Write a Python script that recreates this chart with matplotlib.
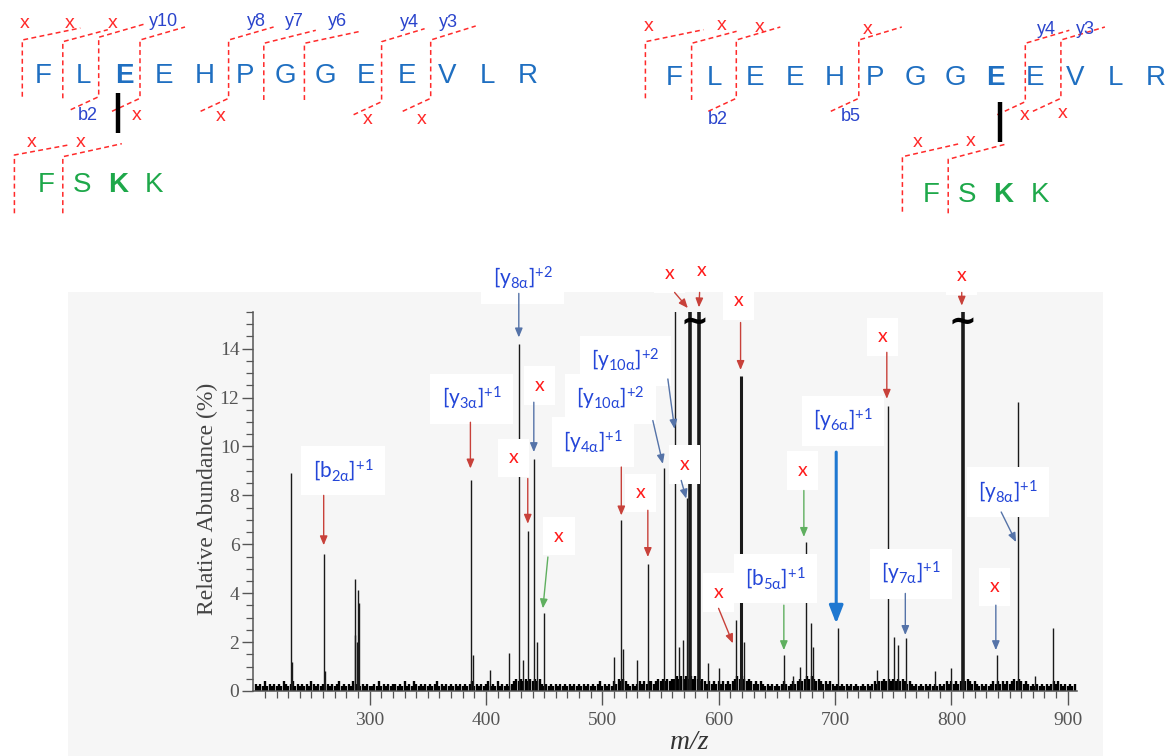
import matplotlib
matplotlib.use('Agg')
import matplotlib.pyplot as plt
from matplotlib.patches import Rectangle
from matplotlib.ticker import FixedLocator

plt.rcParams['mathtext.fontset'] = 'custom'
plt.rcParams['mathtext.rm'] = 'Lato'
plt.rcParams['mathtext.it'] = 'Lato:italic'
plt.rcParams['mathtext.bf'] = 'Lato:bold'

# ---------------- data ----------------
alpha_seq = list("FLEEHPGGEEVLR")
beta_seq = list("FSKK")
left_alpha_link = 2     # cross-linked residue index (alpha), left map
left_beta_link = 2
right_alpha_link = 8
right_beta_link = 2

peak_mz = [232.7, 233.6, 260.4, 261.4, 287.0, 287.7, 289.5, 290.0, 290.7,
           386.8, 388.9, 403.8, 419.5, 428.4, 431.6, 436.1, 441.0, 443.9, 449.6,
           509.8, 516.4, 517.8, 530.1, 539.3, 552.8, 562.3, 565.5, 569.4, 572.4, 575.5, 582.9,
           591.0, 600.1, 614.5, 619.6, 622.0, 656.3, 663.5, 669.7, 674.9, 679.2, 681.0,
           702.7, 735.7, 745.7, 750.4, 754.0, 760.9, 785.8, 800.0, 809.6,
           838.9, 857.4, 871.8, 887.5]
peak_int = [8.9, 1.2, 5.6, 0.8, 2.3, 4.6, 2.0, 4.15, 3.6,
            8.64, 1.47, 0.86, 1.55, 14.2, 1.27, 6.55, 9.5, 2.0, 3.17,
            1.4, 7.0, 1.7, 1.27, 5.2, 9.1, 20, 1.8, 2.1, 7.9, 20, 20,
            1.14, 0.94, 2.9, 12.9, 2.0, 1.47, 0.6, 1.0, 6.1, 2.8, 1.8,
            2.56, 0.86, 11.65, 2.2, 1.9, 2.15, 0.8, 0.93, 20,
            1.47, 11.8, 0.6, 2.56]
offscale_mz = [579.2, 809.6]   # peaks drawn broken (~)

# baseline noise, one digit (tenths of %) every 2 m/z from 202
noise_start = 202
noise_step = 2
noise_digits = ("3232423232" "3243234232" "3232432323" "2323234232" "3243323232"
                "2324232323" "3232423243" "2323232342" "3232323232" "3234232323"
                "4232423232" "3454545454" "5453232323" "2323232323" "2323232342"
                "3232435454" "3232343434" "4345454545" "5656565656" "5454343434"
                "3434345656" "5454343432" "3232323432" "3434545656" "5454343432"
                "3232323232" "2323234344" "5454545454" "3432323232" "3232323434"
                "3434545434" "3232323434" "3434345454" "3432323232" "3234343232"
                "323")

x_major = [300, 400, 500, 600, 700, 800, 900]
y_major = [0, 2, 4, 6, 8, 10, 12, 14]

# annotations: label, (text mz, text y), (arrow start), (arrow end), label colour, arrow colour
RED_T, BLUE_T = '#ff1a1a', '#2446d8'
RED_A, SLATE_A, GREEN_A, BLUE_A = '#c8413a', '#5573a8', '#5faf5f', '#1f78d1'
annotations = [
    (r'$\mathrm{[b}_{\mathrm{2\alpha}}\mathrm{]}^{\mathrm{+1}}$', (277.1, 9.02), (260.5, 8.0), (260.5, 5.96), BLUE_T, RED_A),
    (r'$\mathrm{[y}_{\mathrm{3\alpha}}\mathrm{]}^{\mathrm{+1}}$', (387.4, 11.96), (386.6, 10.99), (386.6, 9.10), BLUE_T, RED_A),
    (r'$\mathrm{[y}_{\mathrm{8\alpha}}\mathrm{]}^{\mathrm{+2}}$', (431.5, 16.86), (428.2, 16.26), (428.2, 14.46), BLUE_T, SLATE_A),
    ('x', (446.1, 12.49), (441.1, 11.81), (441.1, 9.77), RED_T, SLATE_A),
    ('x', (423.7, 9.54), (435.9, 8.69), (435.9, 6.84), RED_T, RED_A),
    ('x', (462.7, 6.33), (453.2, 5.48), (448.9, 3.38), RED_T, GREEN_A),
    (r'$\mathrm{[y}_{\mathrm{4\alpha}}\mathrm{]}^{\mathrm{+1}}$', (491.9, 10.18), (516.3, 9.16), (516.3, 7.18), BLUE_T, RED_A),
    ('x', (532.9, 8.11), (539.1, 7.39), (539.1, 5.48), RED_T, RED_A),
    (r'$\mathrm{[y}_{\mathrm{10\alpha}}\mathrm{]}^{\mathrm{+2}}$', (506.8, 11.95), (543.4, 11.06), (552.0, 9.29), BLUE_T, SLATE_A),
    (r'$\mathrm{[y}_{\mathrm{10\alpha}}\mathrm{]}^{\mathrm{+2}}$', (519.7, 13.51), (556.3, 12.76), (562.1, 10.72), BLUE_T, SLATE_A),
    ('x', (570.9, 9.27), (567.8, 8.61), (572.1, 7.87), RED_T, SLATE_A),
    ('x', (557.8, 17.07), (562.1, 16.30), (573.5, 15.66), RED_T, RED_A),
    ('x', (585.5, 17.18), (583.6, 16.30), (583.0, 15.69), RED_T, RED_A),
    ('x', (617.3, 15.96), (618.8, 15.07), (618.8, 13.13), RED_T, RED_A),
    ('x', (740.5, 14.49), (744.5, 13.85), (744.5, 11.95), RED_T, RED_A),
    ('x', (808.4, 16.98), (808.9, 16.30), (808.9, 15.76), RED_T, RED_A),
    (r'$\mathrm{[y}_{\mathrm{6\alpha}}\mathrm{]}^{\mathrm{+1}}$', (706.7, 11.06), (701.0, 9.77), (701.0, 2.76), BLUE_T, BLUE_A),
    ('x', (672.3, 9.02), (673.2, 8.20), (673.2, 6.30), RED_T, GREEN_A),
    (r'$\mathrm{[b}_{\mathrm{5\alpha}}\mathrm{]}^{\mathrm{+1}}$', (648.9, 4.60), (656.0, 3.51), (656.0, 1.67), BLUE_T, GREEN_A),
    ('x', (599.9, 4.03), (599.9, 3.38), (612.2, 1.95), RED_T, RED_A),
    (r'$\mathrm{[y}_{\mathrm{7\alpha}}\mathrm{]}^{\mathrm{+1}}$', (765.5, 4.80), (760.4, 3.99), (760.4, 2.29), BLUE_T, SLATE_A),
    ('x', (837.0, 4.26), (838.2, 3.51), (838.2, 1.67), RED_T, SLATE_A),
    (r'$\mathrm{[y}_{\mathrm{8\alpha}}\mathrm{]}^{\mathrm{+1}}$', (848.5, 8.13), (842.8, 7.32), (855.6, 6.09), BLUE_T, SLATE_A),
]

# ---------------- fragment maps (pixel layout) ----------------
W, H = 1167, 756
SEQ_A, SEQ_B = '#1f6fc1', '#1ea84a'
DASH_RED = '#ff2a2a'
LAB_BLUE = '#2a44cc'

maps = [
    dict(a_x0=43.1, a_dx=40.4, a_base=83.3, b_x0=46.0, b_dx=36.1, b_base=191.7,
         a_link=left_alpha_link, b_link=left_beta_link, bar=(118.4, 93.3, 133.3),
         marks=[(22.3, 40, 96.7, 58, 12, False), (62.8, 41.7, 98.3, 45, 12, False),
                (98.7, 37.3, 96.7, 45, 13, True), (140.0, 40, 98.3, 45, 13, True),
                (228.6, 40, 98.3, 45, 13, True), (263.8, 43.3, 100, 52, 13, False),
                (304.4, 43.3, 100, 56, 12, False), (381.6, 41.7, 101.7, 43, 13, True),
                (430.7, 40, 98.3, 45, 14, True),
                (14.4, 155, 213.3, 54, 10, False), (62.8, 156.7, 213.3, 59, 13, False)],
         labels=[('x', 25.1, 23.3), ('x', 70, 23.3), ('x', 113, 23.3), ('y10', 163.3, 21.7),
                 ('y8', 256.6, 21.7), ('y7', 294.3, 21.7), ('y6', 337.4, 21.7),
                 ('y4', 409.2, 22.7), ('y3', 448.7, 22.7),
                 ('b2', 87.9, 115), ('x', 136.4, 115), ('x', 220.7, 116.7),
                 ('x', 367.9, 120), ('x', 421.8, 120),
                 ('x', 31.6, 142.7), ('x', 80.8, 142.7)]),
    dict(a_x0=674.5, a_dx=40.1, a_base=85.0, b_x0=930.8, b_dx=36.3, b_base=201.7,
         a_link=right_alpha_link, b_link=right_beta_link, bar=(999.9, 101.7, 141.7),
         marks=[(645.4, 41.7, 98.3, 58, 12, False), (691.6, 43.3, 100, 45, 12, False),
                (736.3, 40, 98.3, 44, 13, True), (858.8, 40, 98.3, 43, 13, True),
                (1025.3, 43.3, 101.7, 44, 13, True), (1060.9, 40, 98.3, 44, 13, True),
                (902.4, 156.7, 211.7, 57, 13, False), (948.2, 159.3, 213.3, 57, 15, False)],
         labels=[('x', 649, 26.7), ('x', 721.8, 25), ('x', 760, 27.3), ('x', 867.2, 30),
                 ('y4', 1046.4, 29.3), ('y3', 1085.3, 29.3),
                 ('b2', 718.1, 120), ('b5', 850.8, 116.7), ('x', 1024.6, 115),
                 ('x', 1062.7, 114), ('x', 917.3, 142.7), ('x', 970.8, 141.7)]),
]

# ---------------- figure ----------------
fig = plt.figure(figsize=(W / 100, H / 100), dpi=100)
ov = fig.add_axes([0, 0, 1, 1], zorder=0)
ov.set_xlim(0, W)
ov.set_ylim(H, 0)
ov.axis('off')
ov.add_patch(Rectangle((68, 292), 1035, 464, facecolor='#f6f6f6', edgecolor='none', zorder=0))

for m in maps:
    for i, ch in enumerate(alpha_seq):
        ov.text(m['a_x0'] + i * m['a_dx'], m['a_base'], ch, fontsize=20, family='Liberation Sans',
                color=SEQ_A, ha='center', va='baseline',
                fontweight='bold' if i == m['a_link'] else 'normal', zorder=3)
    for i, ch in enumerate(beta_seq):
        ov.text(m['b_x0'] + i * m['b_dx'], m['b_base'], ch, fontsize=20, family='Liberation Sans',
                color=SEQ_B, ha='center', va='baseline',
                fontweight='bold' if i == m['b_link'] else 'normal', zorder=3)
    bx, by0, by1 = m['bar']
    ov.plot([bx, bx], [by0, by1], color='black', lw=3.2, solid_capstyle='butt', zorder=4)
    for xv, top, bot, tdx, tdy, btail in m['marks']:
        xs = [xv, xv, xv + tdx]
        ys = [bot, top, top - tdy]
        if btail:
            xs = [xv - 28] + xs
            ys = [bot + 13] + ys
        ov.plot(xs, ys, color=DASH_RED, lw=1.1, ls=(0, (3.2, 2.2)), zorder=2)
    for txt, lx, ly in m['labels']:
        if txt == 'x':
            ov.text(lx, ly, 'x', fontsize=14, family='Liberation Sans', color=DASH_RED,
                    ha='center', va='center', zorder=3)
        else:
            ov.text(lx, ly, txt, fontsize=13, family='Liberation Sans', color=LAB_BLUE,
                    ha='center', va='center', zorder=3)

# ---------------- spectrum ----------------
ax = fig.add_axes([0.21705, 0.08598, 0.70557, 0.50132], zorder=2)
ax.set_facecolor('none')
ax.set_xlim(200, 907.7)
ax.set_ylim(0, 15.5)

noise_mz = [noise_start + noise_step * i for i in range(len(noise_digits))]
noise_h = [int(d) / 10 for d in noise_digits]
ax.vlines(noise_mz, 0, noise_h, color='black', lw=1.7, zorder=1)

thick = {575.5: 2.6, 582.9: 2.6, 809.6: 2.6, 619.6: 2.2}
for mz, h in zip(peak_mz, peak_int):
    ax.vlines(mz, 0, h, color='#1a1a1a', lw=thick.get(mz, 1.0), zorder=2)

for mz in offscale_mz:
    ax.text(mz, 15.1, '~', fontsize=24, fontweight='bold', ha='center', va='center',
            color='black', zorder=4, family='DejaVu Sans')

for lab, tpos, a0, a1, tc, ac in annotations:
    big = ac == BLUE_A
    ax.annotate('', xy=a1, xytext=a0, annotation_clip=False,
                arrowprops=dict(arrowstyle='-|>,head_length=0.6,head_width=0.25' if not big
                                else '-|>,head_length=0.9,head_width=0.35',
                                color=ac, lw=2.2 if big else 1.0, shrinkA=0, shrinkB=0,
                                mutation_scale=12 if big else 9), zorder=5)
    fs = 14 if lab == 'x' else 15
    ax.text(tpos[0], tpos[1], lab, fontsize=fs, color=tc, ha='center', va='center',
            family='Lato', clip_on=False, zorder=4,
            bbox=dict(boxstyle='square,pad=0.55', facecolor='white', edgecolor='none'))

for s in ['top', 'right']:
    ax.spines[s].set_visible(False)
for s in ['left', 'bottom']:
    ax.spines[s].set_color('#555555')
    ax.spines[s].set_linewidth(1.1)

ax.xaxis.set_major_locator(FixedLocator(x_major))
ax.xaxis.set_minor_locator(FixedLocator([v for v in range(210, 901, 10) if v % 100]))
ax.yaxis.set_major_locator(FixedLocator(y_major))
ax.yaxis.set_minor_locator(FixedLocator([v / 2 for v in range(1, 32) if v % 4]))
ax.tick_params(axis='both', which='major', direction='out', color='#555555', width=1.0,
               labelsize=14, labelcolor='#555555')
ax.tick_params(axis='x', which='major', length=10, pad=5)
ax.tick_params(axis='y', which='major', length=8, pad=2)
ax.tick_params(axis='both', which='minor', direction='out', length=5, color='#555555', width=0.9)
for lbl in ax.get_xticklabels() + ax.get_yticklabels():
    lbl.set_family('Liberation Serif')

ax.set_ylabel('Relative Abundance (%)', family='Liberation Serif', fontsize=17, color='#444444')
ax.yaxis.set_label_coords(-0.0425, 0.507)
ax.set_xlabel('m/z', family='Liberation Serif', style='italic', fontsize=20, color='#333333')
ax.xaxis.label.set_va('baseline')
ax.xaxis.set_label_coords(0.530, -0.153)

fig.savefig('out.png', dpi=100)
